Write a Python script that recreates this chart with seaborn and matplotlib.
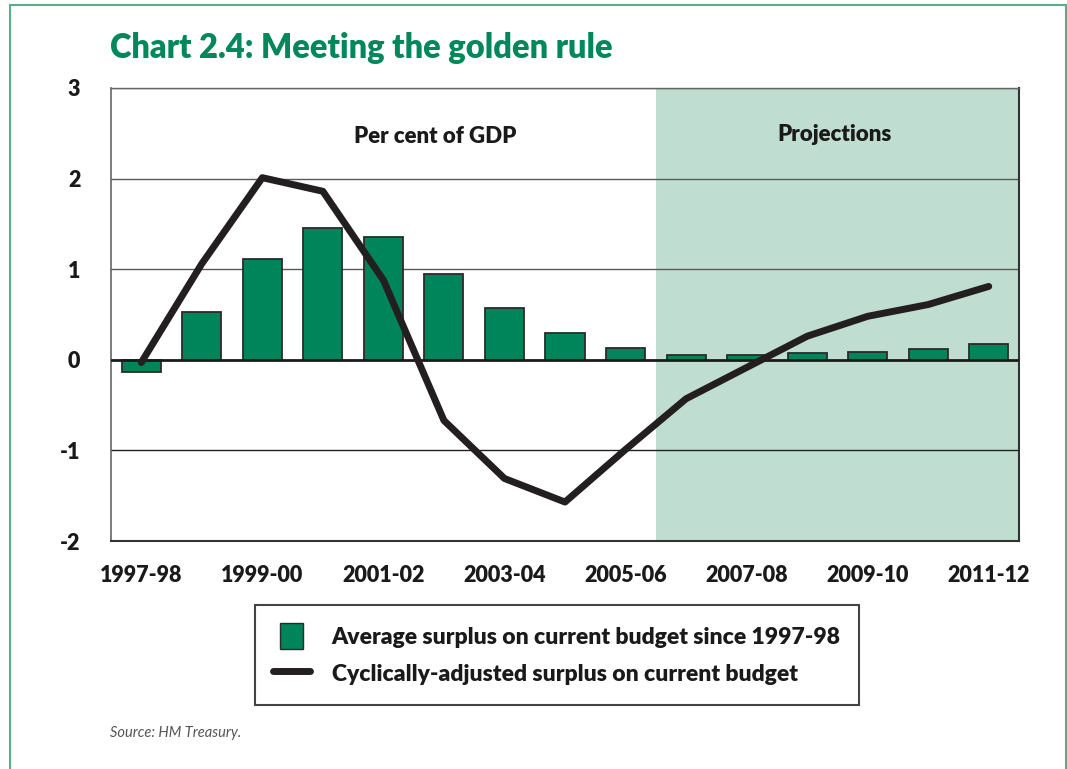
import numpy as np
import pandas as pd
import matplotlib.pyplot as plt
import seaborn as sns
from matplotlib.patches import Patch, Rectangle
from matplotlib.lines import Line2D
from matplotlib.legend_handler import HandlerPatch

years = ["1997-98", "1998-99", "1999-00", "2000-01", "2001-02", "2002-03", "2003-04",
         "2004-05", "2005-06", "2006-07", "2007-08", "2008-09", "2009-10", "2010-11", "2011-12"]
avg_surplus = [-0.14, 0.53, 1.11, 1.45, 1.36, 0.95, 0.57, 0.30, 0.13, 0.055, 0.05, 0.07, 0.085, 0.12, 0.17]
cyc_surplus = [-0.03, 1.06, 2.01, 1.86, 0.88, -0.67, -1.31, -1.57, -0.99, -0.43, -0.085, 0.26, 0.48, 0.61, 0.81]
shown_years = ["1997-98", "1999-00", "2001-02", "2003-04", "2005-06", "2007-08", "2009-10", "2011-12"]
first_projection = "2006-07"
yticks = [-2, -1, 0, 1, 2, 3]

GREEN = "#00845a"
SHADE = "#c0ddd1"
LINE = "#231f20"
HEAVY = "heavy"

sns.set_style("white")
plt.rcParams["font.family"] = ["Lato", "DejaVu Sans"]

df = pd.DataFrame({"year": years, "avg": avg_surplus, "cyc": cyc_surplus})
df["pos"] = np.arange(len(df))

fig = plt.figure(figsize=(10.67, 7.69), dpi=100)
ax = fig.add_axes([111 / 1067, 1 - 541 / 769, 908 / 1067, 453 / 769])

n = len(years)
start = years.index(first_projection) - 0.5
ax.axvspan(start, n - 0.5, color=SHADE, zorder=0, lw=0)

for y in [1, 2, 3]:
    ax.axhline(y, color="#5a5a5a", lw=1, zorder=1)
ax.axhline(-1, color="#222222", lw=1, zorder=1)

sns.barplot(data=df, x="year", y="avg", color=GREEN, saturation=1, width=0.645,
            edgecolor="#2b2b2b", linewidth=1.3, ax=ax, zorder=3)
ax.axhline(0, color="#1a1a1a", lw=2, zorder=3.5)
sns.lineplot(data=df, x="pos", y="cyc", color=LINE, linewidth=5, ax=ax, zorder=4,
             solid_capstyle="round")

ax.set_xlim(-0.5, n - 0.5)
ax.set_ylim(-2, 3)
ax.set_xticks(range(n))
ax.set_xticklabels([y if y in shown_years else "" for y in years])
ax.set_yticks(yticks)
ax.set_yticklabels([str(v) for v in yticks])
ax.set_xlabel("")
ax.set_ylabel("")
for lab in ax.get_xticklabels() + ax.get_yticklabels():
    lab.set_fontweight(HEAVY)
    lab.set_color("#1a1a1a")
ax.tick_params(axis="x", length=9, width=1, color="#444444", pad=8, labelsize=15.5)
ax.tick_params(axis="y", length=16, width=1, color="#555555", pad=6, labelsize=15.5)

ax.spines["left"].set_color("#666666")
ax.spines["left"].set_linewidth(1.2)
ax.spines["top"].set_color("#666666")
ax.spines["top"].set_linewidth(1)
for s in ["right", "bottom"]:
    ax.spines[s].set_color("#333333")
    ax.spines[s].set_linewidth(1.5)

ax.text(0.357, 0.892, "Per cent of GDP", transform=ax.transAxes, ha="center", va="center",
        fontsize=16, fontweight=HEAVY, color="#1a1a1a")
ax.text(0.797, 0.898, "Projections", transform=ax.transAxes, ha="center", va="center",
        fontsize=16, fontweight=HEAVY, color="#1a1a1a")

fig.text(110 / 1067, 1 - 48 / 769, "Chart 2.4: Meeting the golden rule", fontsize=23.5,
         fontweight=HEAVY, color="#00875a", va="center", ha="left")
fig.text(110 / 1067, 1 - 733 / 769, "Source: HM Treasury.", fontsize=10.5, style="italic",
         fontweight="normal", color="#555555", va="center", ha="left")


def small_box(legend, orig_handle, xdescent, ydescent, width, height, fontsize):
    h = height
    w = h * 0.88
    return Rectangle((-xdescent + (width - w) / 2, -ydescent), w, h)


handles = [Patch(facecolor=GREEN, edgecolor="#2b2b2b", lw=1),
           Line2D([0], [0], color=LINE, lw=5)]
labels = ["Average surplus on current budget since 1997-98",
          "Cyclically-adjusted surplus on current budget"]
leg = fig.legend(handles, labels, loc="upper left", bbox_to_anchor=(255 / 1067, 1 - 605 / 769),
                 frameon=True, fancybox=False, edgecolor="#444444", framealpha=1,
                 prop=dict(weight=HEAVY, size=16.5), handlelength=1.6, handleheight=1.35,
                 handletextpad=0.95, borderpad=0.8, labelspacing=0.5, borderaxespad=0,
                 handler_map={Patch: HandlerPatch(patch_func=small_box)})
leg.get_frame().set_linewidth(1.5)
for t in leg.get_texts():
    t.set_color("#1a1a1a")

fig.add_artist(Rectangle((10 / 1067, -0.05), 1056 / 1067, 1.05 - 5 / 769, transform=fig.transFigure,
                         fill=False, edgecolor="#52b08c", lw=1.5, clip_on=False))

fig.savefig("out.png", dpi=100)
